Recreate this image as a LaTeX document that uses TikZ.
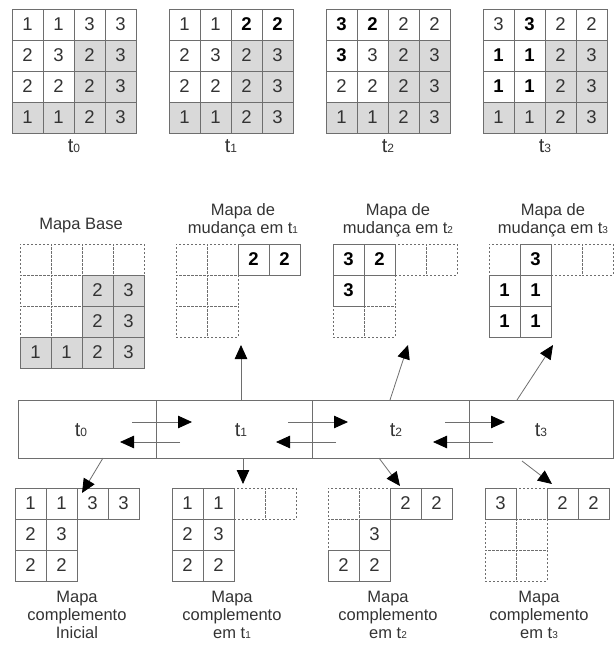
\documentclass[tikz,border=0pt]{standalone}
\usepackage{fontspec}
\setmainfont{Liberation Sans}
\usetikzlibrary{arrows.meta}
\definecolor{linec}{HTML}{6E6E6E}
\definecolor{shade}{HTML}{D9D9D9}
\definecolor{txt}{HTML}{333333}
\newcommand\sub[1]{{\fontsize{10}{10}\selectfont #1}}
\newcommand\bsub[1]{{\fontsize{12}{12}\selectfont #1}}
\newcommand\mycell[7]{\node[#6] (#1-#5-#4) at ({#2+15.5+31*(#4-1)},{#3+15.5+31*(#5-1)}) {#7};}
\begin{document}
\begin{tikzpicture}[x=1pt,y=-1pt,
 cell/.style={draw=linec, line width=0.8pt, minimum size=31pt, inner sep=0pt, text=txt, font=\fontsize{18.5}{18.5}\selectfont},
 wcell/.style={cell, fill=white},
 gcell/.style={cell, fill=shade},
 dcell/.style={cell, dash pattern=on 2pt off 2pt},
 bcell/.style={cell, fill=white, text=black, font=\fontsize{18.5}{18.5}\selectfont\bfseries},
 title/.style={align=center, text=txt, font=\fontsize{16.5}{17.8}\selectfont, inner sep=0pt},
 tlab/.style={text=txt, font=\fontsize{20}{20}\selectfont, inner sep=0pt},
 bar/.style={draw=linec, line width=0.8pt, minimum height=58pt, inner sep=0pt, anchor=north west},
 arr/.style={draw=linec, line width=0.8pt, -{Triangle[length=14pt,width=12.5pt,color=black]}},
]
\useasboundingbox (0,0) rectangle (614,646);

% ---------- top grids ----------
\foreach \g/\X/\i in {G1/12/0,G2/169/1,G3/326/2,G4/483/3}{
 \mycell{\g}{\X}{9}{3}{2}{gcell}{2}
 \mycell{\g}{\X}{9}{4}{2}{gcell}{3}
 \mycell{\g}{\X}{9}{3}{3}{gcell}{2}
 \mycell{\g}{\X}{9}{4}{3}{gcell}{3}
 \mycell{\g}{\X}{9}{1}{4}{gcell}{1}
 \mycell{\g}{\X}{9}{2}{4}{gcell}{1}
 \mycell{\g}{\X}{9}{3}{4}{gcell}{2}
 \mycell{\g}{\X}{9}{4}{4}{gcell}{3}
 \node[tlab] (\g-lab) at ({\X+62},146) {t\bsub{\i}};
}
% G1
\mycell{G1}{12}{9}{1}{1}{wcell}{1}
\mycell{G1}{12}{9}{2}{1}{wcell}{1}
\mycell{G1}{12}{9}{3}{1}{wcell}{3}
\mycell{G1}{12}{9}{4}{1}{wcell}{3}
\mycell{G1}{12}{9}{1}{2}{wcell}{2}
\mycell{G1}{12}{9}{2}{2}{wcell}{3}
\mycell{G1}{12}{9}{1}{3}{wcell}{2}
\mycell{G1}{12}{9}{2}{3}{wcell}{2}
% G2
\mycell{G2}{169}{9}{1}{1}{wcell}{1}
\mycell{G2}{169}{9}{2}{1}{wcell}{1}
\mycell{G2}{169}{9}{3}{1}{bcell}{2}
\mycell{G2}{169}{9}{4}{1}{bcell}{2}
\mycell{G2}{169}{9}{1}{2}{wcell}{2}
\mycell{G2}{169}{9}{2}{2}{wcell}{3}
\mycell{G2}{169}{9}{1}{3}{wcell}{2}
\mycell{G2}{169}{9}{2}{3}{wcell}{2}
% G3
\mycell{G3}{326}{9}{1}{1}{bcell}{3}
\mycell{G3}{326}{9}{2}{1}{bcell}{2}
\mycell{G3}{326}{9}{3}{1}{wcell}{2}
\mycell{G3}{326}{9}{4}{1}{wcell}{2}
\mycell{G3}{326}{9}{1}{2}{bcell}{3}
\mycell{G3}{326}{9}{2}{2}{wcell}{3}
\mycell{G3}{326}{9}{1}{3}{wcell}{2}
\mycell{G3}{326}{9}{2}{3}{wcell}{2}
% G4
\mycell{G4}{483}{9}{1}{1}{wcell}{3}
\mycell{G4}{483}{9}{2}{1}{bcell}{3}
\mycell{G4}{483}{9}{3}{1}{wcell}{2}
\mycell{G4}{483}{9}{4}{1}{wcell}{2}
\mycell{G4}{483}{9}{1}{2}{bcell}{1}
\mycell{G4}{483}{9}{2}{2}{bcell}{1}
\mycell{G4}{483}{9}{1}{3}{bcell}{1}
\mycell{G4}{483}{9}{2}{3}{bcell}{1}

% ---------- middle maps ----------
\node[title] (Bt) at (81,226) {Mapa Base};
\mycell{B}{20}{244}{1}{1}{dcell}{}
\mycell{B}{20}{244}{2}{1}{dcell}{}
\mycell{B}{20}{244}{3}{1}{dcell}{}
\mycell{B}{20}{244}{4}{1}{dcell}{}
\mycell{B}{20}{244}{1}{2}{dcell}{}
\mycell{B}{20}{244}{2}{2}{dcell}{}
\mycell{B}{20}{244}{1}{3}{dcell}{}
\mycell{B}{20}{244}{2}{3}{dcell}{}
\mycell{B}{20}{244}{3}{2}{gcell}{2}
\mycell{B}{20}{244}{4}{2}{gcell}{3}
\mycell{B}{20}{244}{3}{3}{gcell}{2}
\mycell{B}{20}{244}{4}{3}{gcell}{3}
\mycell{B}{20}{244}{1}{4}{gcell}{1}
\mycell{B}{20}{244}{2}{4}{gcell}{1}
\mycell{B}{20}{244}{3}{4}{gcell}{2}
\mycell{B}{20}{244}{4}{4}{gcell}{3}

\node[title] (M1t) at (243,220) {Mapa de\\mudança em t\sub{1}};
\mycell{M1}{176}{244}{1}{1}{dcell}{}
\mycell{M1}{176}{244}{2}{1}{dcell}{}
\mycell{M1}{176}{244}{1}{2}{dcell}{}
\mycell{M1}{176}{244}{2}{2}{dcell}{}
\mycell{M1}{176}{244}{1}{3}{dcell}{}
\mycell{M1}{176}{244}{2}{3}{dcell}{}
\mycell{M1}{176}{244}{3}{1}{bcell}{2}
\mycell{M1}{176}{244}{4}{1}{bcell}{2}

\node[title] (M2t) at (398,220) {Mapa de\\mudança em t\sub{2}};
\mycell{M2}{333}{244}{3}{1}{dcell}{}
\mycell{M2}{333}{244}{4}{1}{dcell}{}
\mycell{M2}{333}{244}{2}{2}{dcell}{}
\mycell{M2}{333}{244}{1}{3}{dcell}{}
\mycell{M2}{333}{244}{2}{3}{dcell}{}
\mycell{M2}{333}{244}{1}{1}{bcell}{3}
\mycell{M2}{333}{244}{2}{1}{bcell}{2}
\mycell{M2}{333}{244}{1}{2}{bcell}{3}

\node[title] (M3t) at (553,220) {Mapa de\\mudança em t\sub{3}};
\mycell{M3}{489}{244}{1}{1}{dcell}{}
\mycell{M3}{489}{244}{3}{1}{dcell}{}
\mycell{M3}{489}{244}{4}{1}{dcell}{}
\mycell{M3}{489}{244}{2}{1}{bcell}{3}
\mycell{M3}{489}{244}{1}{2}{bcell}{1}
\mycell{M3}{489}{244}{2}{2}{bcell}{1}
\mycell{M3}{489}{244}{1}{3}{bcell}{1}
\mycell{M3}{489}{244}{2}{3}{bcell}{1}

% ---------- time bar ----------
\node[bar, minimum width=138pt] (T0) at (18,400) {};
\node[bar, minimum width=156pt] (T1) at (156,400) {};
\node[bar, minimum width=157pt] (T2) at (312,400) {};
\node[bar, minimum width=144pt] (T3) at (469,400) {};
\node[tlab] (L0) at (81,430) {t\bsub{0}};
\node[tlab] (L1) at (241,430) {t\bsub{1}};
\node[tlab] (L2) at (396,430) {t\bsub{2}};
\node[tlab] (L3) at (541,430) {t\bsub{3}};

\foreach \d/\n in {156/1,312/2,469/3}{
 \coordinate (r\n s) at ({\d-24},422);
 \coordinate (r\n e) at ({\d+36},422);
 \coordinate (l\n s) at ({\d+24},442);
 \coordinate (l\n e) at ({\d-36},442);
 \draw[arr] (r\n s) -- (r\n e);
 \draw[arr] (l\n s) -- (l\n e);
}

% up arrows
\coordinate (u1s) at (241,400); \coordinate (u1e) at (241,345);
\coordinate (u2s) at (390,400); \coordinate (u2e) at (408,345);
\coordinate (u3s) at (517,400); \coordinate (u3e) at (553,345);
\draw[arr] (u1s) -- (u1e);
\draw[arr] (u2s) -- (u2e);
\draw[arr] (u3s) -- (u3e);

% ---------- bottom maps ----------
\mycell{C0}{15}{488}{1}{1}{wcell}{1}
\mycell{C0}{15}{488}{2}{1}{wcell}{1}
\mycell{C0}{15}{488}{3}{1}{wcell}{3}
\mycell{C0}{15}{488}{4}{1}{wcell}{3}
\mycell{C0}{15}{488}{1}{2}{wcell}{2}
\mycell{C0}{15}{488}{2}{2}{wcell}{3}
\mycell{C0}{15}{488}{1}{3}{wcell}{2}
\mycell{C0}{15}{488}{2}{3}{wcell}{2}
\node[title] (C0t) at (77,615) {Mapa\\complemento\\Inicial};

\mycell{C1}{172}{488}{3}{1}{dcell}{}
\mycell{C1}{172}{488}{4}{1}{dcell}{}
\mycell{C1}{172}{488}{1}{1}{wcell}{1}
\mycell{C1}{172}{488}{2}{1}{wcell}{1}
\mycell{C1}{172}{488}{1}{2}{wcell}{2}
\mycell{C1}{172}{488}{2}{2}{wcell}{3}
\mycell{C1}{172}{488}{1}{3}{wcell}{2}
\mycell{C1}{172}{488}{2}{3}{wcell}{2}
\node[title] (C1t) at (232,615) {Mapa\\complemento\\em t\sub{1}};

\mycell{C2}{328}{488}{1}{1}{dcell}{}
\mycell{C2}{328}{488}{2}{1}{dcell}{}
\mycell{C2}{328}{488}{1}{2}{dcell}{}
\mycell{C2}{328}{488}{3}{1}{wcell}{2}
\mycell{C2}{328}{488}{4}{1}{wcell}{2}
\mycell{C2}{328}{488}{2}{2}{wcell}{3}
\mycell{C2}{328}{488}{1}{3}{wcell}{2}
\mycell{C2}{328}{488}{2}{3}{wcell}{2}
\node[title] (C2t) at (388,615) {Mapa\\complemento\\em t\sub{2}};

\mycell{C3}{485}{488}{2}{1}{dcell}{}
\mycell{C3}{485}{488}{1}{2}{dcell}{}
\mycell{C3}{485}{488}{2}{2}{dcell}{}
\mycell{C3}{485}{488}{1}{3}{dcell}{}
\mycell{C3}{485}{488}{2}{3}{dcell}{}
\mycell{C3}{485}{488}{1}{1}{wcell}{3}
\mycell{C3}{485}{488}{3}{1}{wcell}{2}
\mycell{C3}{485}{488}{4}{1}{wcell}{2}
\node[title] (C3t) at (539,615) {Mapa\\complemento\\em t\sub{3}};

% down arrows
\coordinate (d0s) at (103,458); \coordinate (d0e) at (82,493);
\coordinate (d1s) at (243,458); \coordinate (d1e) at (243,484);
\coordinate (d2s) at (379,458); \coordinate (d2e) at (400,486);
\coordinate (d3s) at (522,461); \coordinate (d3e) at (552,484);
\draw[arr] (d0s) -- (d0e);
\draw[arr] (d1s) -- (d1e);
\draw[arr] (d2s) -- (d2e);
\draw[arr] (d3s) -- (d3e);
\end{tikzpicture}
\end{document}
